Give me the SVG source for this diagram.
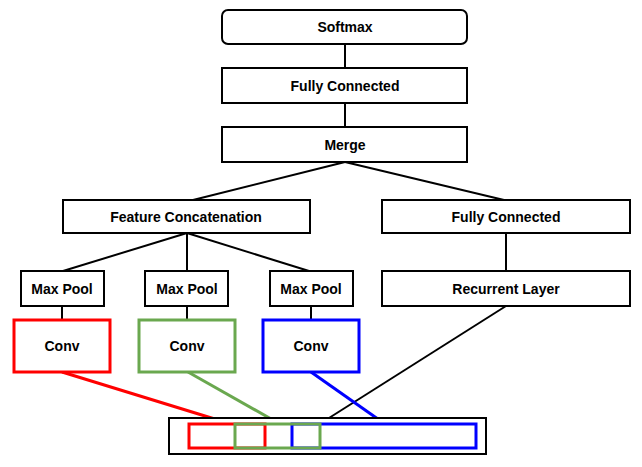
<svg xmlns="http://www.w3.org/2000/svg" width="642" height="467" viewBox="0 0 642 467">
<style>
.b{fill:#fff;stroke:#000;stroke-width:2}
.t{font-family:"Liberation Sans",Arial,sans-serif;font-weight:bold;font-size:14px;text-anchor:middle;dominant-baseline:central;fill:#000}
.l{stroke:#000;stroke-width:2;fill:none}
</style>
<rect width="642" height="467" fill="#fff"/>
<g id="connectors">
<line class="l" x1="345" y1="44" x2="345" y2="68"/>
<line class="l" x1="345" y1="103" x2="345" y2="127"/>
<line class="l" x1="345" y1="162" x2="193" y2="200"/>
<line class="l" x1="345" y1="162" x2="504" y2="200"/>
<line class="l" x1="187" y1="233" x2="63" y2="271"/>
<line class="l" x1="187" y1="233" x2="187" y2="271"/>
<line class="l" x1="187" y1="233" x2="309" y2="271"/>
<line class="l" x1="506" y1="233" x2="506" y2="271"/>
<line class="l" x1="62" y1="306" x2="62" y2="320"/>
<line class="l" x1="187" y1="306" x2="187" y2="320"/>
<line class="l" x1="311" y1="306" x2="311" y2="320"/>
<line class="l" x1="506" y1="306" x2="329" y2="418"/>
<line stroke="#ff0000" stroke-width="3" x1="62" y1="372" x2="231" y2="424"/>
<line stroke="#6aa84f" stroke-width="3" x1="188" y1="372" x2="280" y2="424"/>
<line stroke="#0000ff" stroke-width="3" x1="311" y1="372" x2="385" y2="424"/>
</g>
<g id="softmax"><rect class="b" x="222" y="10" width="245" height="34" rx="6"/><text class="t" x="345" y="27">Softmax</text></g>
<g id="fc-top"><rect class="b" x="222" y="68" width="245" height="35"/><text class="t" x="345" y="86">Fully Connected</text></g>
<g id="merge"><rect class="b" x="222" y="127" width="245" height="35"/><text class="t" x="345" y="145">Merge</text></g>
<g id="feature-concat"><rect class="b" x="63" y="200" width="247" height="33"/><text class="t" x="186" y="217">Feature Concatenation</text></g>
<g id="fc-right"><rect class="b" x="382" y="200" width="248" height="33"/><text class="t" x="506" y="217">Fully Connected</text></g>
<g id="maxpool1"><rect class="b" x="21" y="271" width="83" height="35"/><text class="t" x="62" y="289">Max Pool</text></g>
<g id="maxpool2"><rect class="b" x="145" y="271" width="83" height="35"/><text class="t" x="187" y="289">Max Pool</text></g>
<g id="maxpool3"><rect class="b" x="270" y="271" width="83" height="35"/><text class="t" x="311" y="289">Max Pool</text></g>
<g id="recurrent"><rect class="b" x="382" y="271" width="248" height="35"/><text class="t" x="506" y="289">Recurrent Layer</text></g>
<g id="conv-red"><rect x="14" y="320" width="96" height="52" fill="#fff" stroke="#ff0000" stroke-width="3"/><text class="t" x="62" y="346">Conv</text></g>
<g id="conv-green"><rect x="139" y="320" width="96" height="52" fill="#fff" stroke="#6aa84f" stroke-width="3"/><text class="t" x="187" y="346">Conv</text></g>
<g id="conv-blue"><rect x="263" y="320" width="96" height="52" fill="#fff" stroke="#0000ff" stroke-width="3"/><text class="t" x="311" y="346">Conv</text></g>
<g id="input">
<rect class="b" x="169" y="418" width="317" height="36"/>
<rect x="189" y="424" width="76" height="24" fill="none" stroke="#ff0000" stroke-width="3"/>
<rect x="292" y="424" width="184" height="24" fill="none" stroke="#0000ff" stroke-width="3"/>
<rect x="235" y="424" width="85" height="24" fill="none" stroke="#6aa84f" stroke-width="3"/>
</g>
</svg>
